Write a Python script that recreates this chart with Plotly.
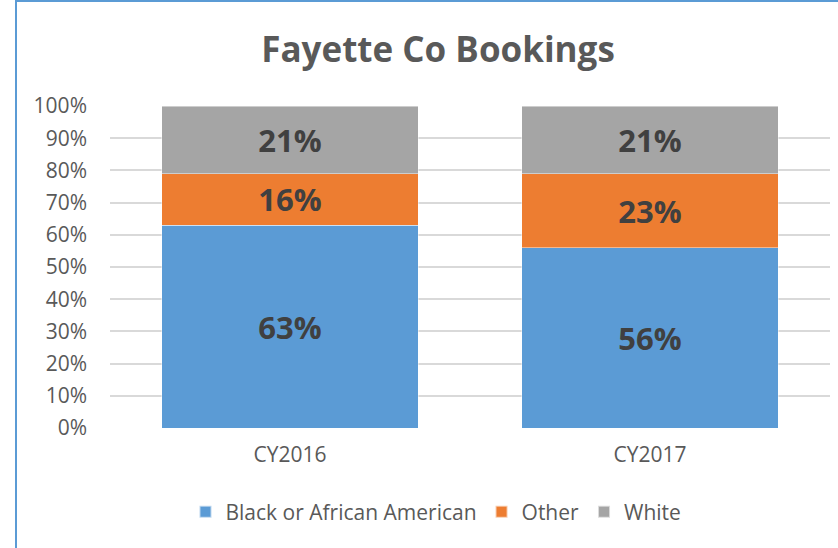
import plotly.graph_objects as go

categories = ["CY2016", "CY2017"]
series_names = ["Black or African American", "Other", "White"]
black = [63, 56]
other = [16, 23]
white = [21, 21]
colors = ["#5B9BD5", "#ED7D31", "#A5A5A5"]
y_ticks = [0, 10, 20, 30, 40, 50, 60, 70, 80, 90, 100]

fig = go.Figure()
for name, vals, col in zip(series_names, [black, other, white], colors):
    fig.add_trace(go.Bar(
        x=categories, y=vals, name=name,
        marker=dict(color=col, line=dict(color="rgba(255,255,255,0.6)", width=0.75)),
        text=[f"{v}%" for v in vals], textposition="inside",
        insidetextanchor="middle",
        textfont=dict(family="Open Sans", size=31, color="#404040", weight="bold"),
        width=0.713,
    ))

L, R, T, B = 110, 8, 106, 120
W, H = 838, 548
pw, ph = W - L - R, H - T - B

fig.update_layout(
    width=W, height=H,
    barmode="stack",
    margin=dict(l=L, r=R, t=T, b=B),
    paper_bgcolor="white", plot_bgcolor="white",
    title=dict(text="<b>Fayette Co Bookings</b>", x=438 / W, xanchor="center",
               y=1 - 50 / H, yanchor="middle",
               font=dict(family="Open Sans", size=35, color="#595959")),
    xaxis=dict(showgrid=False, showline=False, ticks="",
               tickfont=dict(family="Open Sans", size=21, color="#595959"),
               ticklabelstandoff=12),
    yaxis=dict(range=[0, 100], tickvals=y_ticks, ticktext=[f"{v}%" for v in y_ticks],
               showgrid=True, gridcolor="#D9D9D9", gridwidth=1.5, zeroline=False,
               showline=False, ticks="", ticklabelstandoff=22,
               tickfont=dict(family="Open Sans", size=21, color="#595959")),
    legend=dict(orientation="h", x=436 / W, xref="container", xanchor="center",
                y=1 - 512 / H, yref="container", yanchor="middle",
                font=dict(family="Open Sans", size=21, color="#595959"),
                itemsizing="constant", traceorder="normal", itemwidth=30),
    showlegend=True,
    bargap=0.287,
    shapes=[dict(type="rect", xref="paper", yref="paper",
                 x0=(16 - L) / pw, x1=(W + 20 - L) / pw,
                 y0=-(H + 20 - T - ph) / ph, y1=1 + (T - 1) / ph,
                 line=dict(color="#5B9BD5", width=2), fillcolor="rgba(0,0,0,0)",
                 layer="below")],
)

fig.write_html("out.html", config={"displayModeBar": False},
               post_script="document.body.style.margin='0';document.body.style.overflow='hidden';")
